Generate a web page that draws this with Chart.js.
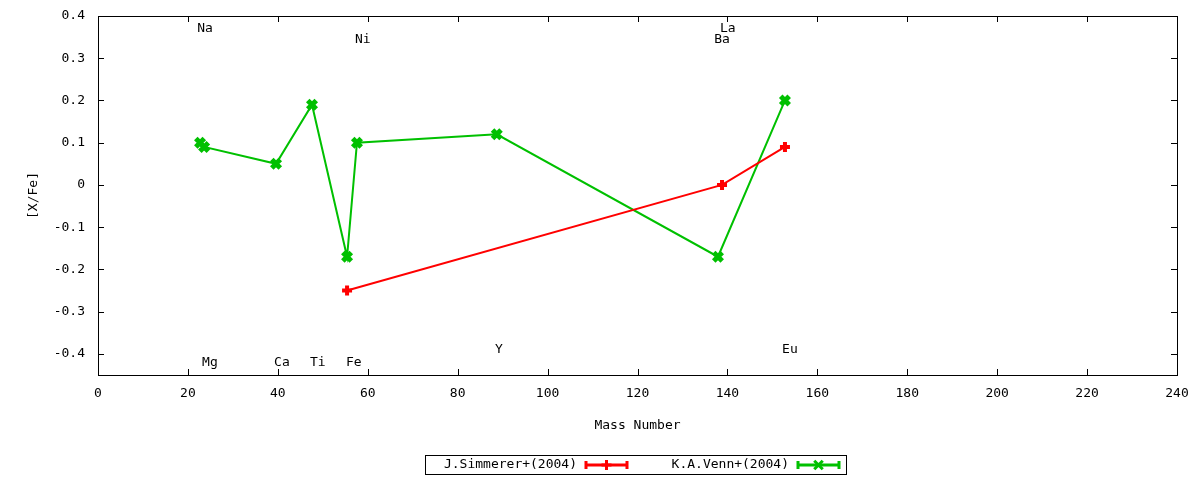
<!DOCTYPE html>
<html>
<head>
<meta charset="utf-8">
<script src="https://cdn.jsdelivr.net/npm/chart.js@4/dist/chart.umd.min.js"></script>
<style>
  html, body { margin: 0; padding: 0; background: #fff; }
  #wrap { width: 1200px; height: 480px; }
</style>
</head>
<body>
<div id="wrap"><canvas id="abund"></canvas></div>
<script>
// Simmerer+(2004): Fe, La, Eu
const simMass = [55.4, 138.8, 152.8];
const simXFe = [-0.25, 0.0, 0.09];

// Venn+(2004): Na, Mg, Ca, Ti, Fe, Ni, Y, Ba, Eu
const vennMass = [22.7, 23.6, 39.6, 47.6, 55.4, 57.6, 88.7, 137.9, 152.8];
const vennXFe = [0.10, 0.09, 0.05, 0.19, -0.17, 0.10, 0.12, -0.17, 0.20];

// element labels placed in data coords
const elemNames = ['Na', 'Ni', 'La', 'Ba', 'Mg', 'Ca', 'Ti', 'Fe', 'Y', 'Eu'];
const elemX = [23.8, 58.9, 140.1, 138.8, 24.9, 40.9, 48.9, 56.9, 89.2, 153.9];
const elemY = [0.37, 0.345, 0.37, 0.345, -0.42, -0.42, -0.42, -0.42, -0.39, -0.39];

const xTicks = [0, 20, 40, 60, 80, 100, 120, 140, 160, 180, 200, 220, 240];
const yTicks = [-0.4, -0.3, -0.2, -0.1, 0, 0.1, 0.2, 0.3, 0.4];

const FONT = '"DejaVu Sans Mono", monospace';
const RED = '#ff0000';
const GREEN = '#00c000';

function toPoints(xs, ys) {
  return xs.map((x, i) => ({ x: x, y: ys[i] }));
}

function drawMark(c, ds, x, y) {
  c.save();
  c.strokeStyle = ds.borderColor;
  c.fillStyle = ds.borderColor;
  Chart.helpers.drawPoint(c, {
    pointStyle: ds.pointStyle,
    radius: ds.pointRadius,
    borderWidth: ds.pointBorderWidth,
  }, x, y);
  c.restore();
}

//draws frame, inward ticks, element labels and the boxed legend
const gnuplotLook = {
  id: 'gnuplotLook',
  afterDraw(chart) {
    const ctx = chart.ctx;
    const a = chart.chartArea;
    const xs = chart.scales.x, ys = chart.scales.y;
    ctx.save();
    ctx.strokeStyle = '#000';
    ctx.lineWidth = 1;
    ctx.strokeRect(a.left + 0.5, a.top + 0.5, a.right - a.left, a.bottom - a.top);
    ctx.beginPath();
    xTicks.forEach(v => {
      const px = Math.round(xs.getPixelForValue(v)) + 0.5;
      ctx.moveTo(px, a.bottom); ctx.lineTo(px, a.bottom - 6);
      ctx.moveTo(px, a.top); ctx.lineTo(px, a.top + 6);
    });
    yTicks.forEach(v => {
      const py = Math.round(ys.getPixelForValue(v)) + 0.5;
      ctx.moveTo(a.left, py); ctx.lineTo(a.left + 6, py);
      ctx.moveTo(a.right, py); ctx.lineTo(a.right - 6, py);
    });
    ctx.stroke();

    ctx.fillStyle = '#000';
    ctx.font = '13px ' + FONT;
    ctx.textAlign = 'center';
    ctx.textBaseline = 'middle';
    elemNames.forEach((n, i) => {
      ctx.fillText(n, xs.getPixelForValue(elemX[i]), ys.getPixelForValue(elemY[i]));
    });

    // legend
    ctx.strokeRect(425.5, 455.5, 421, 19);
    ctx.textAlign = 'right';
    const textEnd = [577, 789];
    chart.data.datasets.forEach((ds, i) => {
      const y = 465;
      ctx.fillStyle = '#000';
      ctx.fillText(ds.label, textEnd[i], y);
      const x0 = textEnd[i] + 8, x1 = x0 + 43;
      ctx.strokeStyle = ds.borderColor;
      ctx.lineWidth = 3;
      ctx.beginPath();
      ctx.moveTo(x0, y); ctx.lineTo(x1, y);
      ctx.moveTo(x0 + 1, y - 4); ctx.lineTo(x0 + 1, y + 4);
      ctx.moveTo(x1 - 1, y - 4); ctx.lineTo(x1 - 1, y + 4);
      ctx.stroke();
      drawMark(ctx, ds, (x0 + x1) / 2, y);
    });
    ctx.restore();
  }
};

const ctx = document.getElementById('abund');
new Chart(ctx, {
  type: 'scatter',
  data: {
    datasets: [
      {
        label: 'J.Simmerer+(2004)',
        data: toPoints(simMass, simXFe),
        showLine: true,
        borderColor: RED,
        backgroundColor: RED,
        borderWidth: 2,
        pointStyle: 'cross',
        pointRadius: 5,
        pointBorderWidth: 4,
      },
      {
        label: 'K.A.Venn+(2004)',
        data: toPoints(vennMass, vennXFe),
        showLine: true,
        borderColor: GREEN,
        backgroundColor: GREEN,
        borderWidth: 2,
        pointStyle: 'crossRot',
        pointRadius: 6,
        pointBorderWidth: 5,
      }
    ]
  },
  options: {
    responsive: true,
    maintainAspectRatio: false,
    animation: false,
    devicePixelRatio: 1,
    layout: { padding: { left: 0, right: 23, top: 16, bottom: 0 } },
    elements: {
      line: { tension: 0 },
    },
    plugins: {
      legend: { display: false },
      tooltip: { enabled: false },
    },
    scales: {
      x: {
        type: 'linear',
        min: 0,
        max: 240,
        afterFit: s => { s.height = 105; s.paddingLeft = 0; s.paddingRight = 0; },
        afterBuildTicks: s => { s.ticks = xTicks.map(v => ({ value: v })); },
        grid: { display: false, drawTicks: false },
        border: { display: false },
        ticks: {
          color: '#000',
          font: { family: FONT, size: 13 },
          padding: 11,
          maxRotation: 0,
          callback: v => String(v),
        },
        title: {
          display: true,
          text: 'Mass Number',
          color: '#000',
          font: { family: FONT, size: 13 },
          padding: { top: 0, bottom: 47 },
        }
      },
      y: {
        type: 'linear',
        min: -0.45,
        max: 0.4,
        afterFit: s => { s.width = 98; s.paddingTop = 0; s.paddingBottom = 0; },
        afterBuildTicks: s => { s.ticks = yTicks.map(v => ({ value: v })); },
        grid: { display: false, drawTicks: false },
        border: { display: false },
        ticks: {
          color: '#000',
          font: { family: FONT, size: 13 },
          padding: 13,
          callback: v => String(Math.round(v * 10) / 10),
        },
        title: {
          display: true,
          text: '[X/Fe]',
          color: '#000',
          font: { family: FONT, size: 13 },
          padding: { top: 26, bottom: 0 },
        }
      }
    }
  },
  plugins: [gnuplotLook]
});
</script>
</body>
</html>
